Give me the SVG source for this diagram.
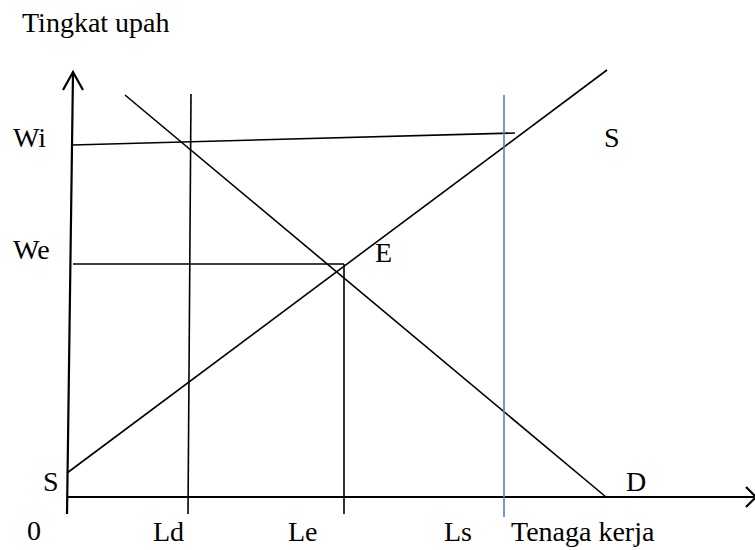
<svg xmlns="http://www.w3.org/2000/svg" width="755" height="550" viewBox="0 0 755 550">
<style>
.t{font-family:"Liberation Serif","Times New Roman",serif;font-size:28px;fill:#000}
.ax{stroke:#000;stroke-width:2.2;fill:none}
.ln{stroke:#000;stroke-width:1.6;fill:none}
.bl{stroke:#4f81bd;stroke-width:1.6;fill:none}
</style>
<rect width="755" height="550" fill="#fff"/>
<g id="connectors">
<line class="ax" x1="67" y1="514" x2="73" y2="73"/>
<polyline class="ax" points="63,90 73,72 83,90"/>
<line class="ax" x1="67" y1="497" x2="754" y2="497"/>
<polyline class="ax" points="746,487 756,497 746,507"/>
<line class="ln" x1="72" y1="145" x2="515" y2="133"/>
<line class="ln" x1="191" y1="94" x2="188" y2="514"/>
<line class="ln" x1="125" y1="95" x2="606" y2="497"/>
<line class="ln" x1="67" y1="473" x2="607" y2="70"/>
<line class="ln" x1="73" y1="264" x2="344" y2="264"/>
<line class="ln" x1="344" y1="264" x2="344" y2="514"/>
<line class="bl" x1="504" y1="95" x2="504" y2="517"/>
</g>
<g id="label-tingkat-upah"><text class="t" x="22" y="32">Tingkat upah</text></g>
<g id="label-wi"><text class="t" x="13" y="147">Wi</text></g>
<g id="label-we"><text class="t" x="13" y="259">We</text></g>
<g id="label-e"><text class="t" x="375" y="262">E</text></g>
<g id="label-s-top"><text class="t" x="604" y="147">S</text></g>
<g id="label-s-bottom"><text class="t" x="43" y="491">S</text></g>
<g id="label-d"><text class="t" x="626" y="491">D</text></g>
<g id="label-0"><text class="t" x="27" y="540">0</text></g>
<g id="label-ld"><text class="t" x="153" y="541">Ld</text></g>
<g id="label-le"><text class="t" x="288" y="541">Le</text></g>
<g id="label-ls"><text class="t" x="444" y="541">Ls</text></g>
<g id="label-tenaga-kerja"><text class="t" x="511" y="541">Tenaga kerja</text></g>
</svg>
